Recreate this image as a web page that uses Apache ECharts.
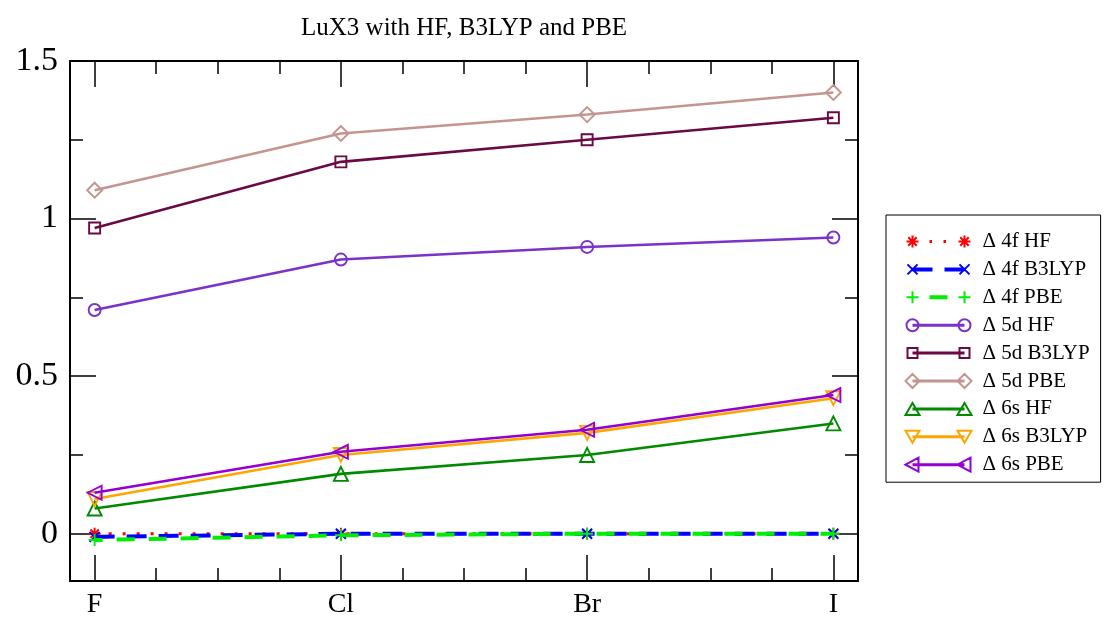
<!DOCTYPE html>
<html>
<head>
<meta charset="utf-8">
<script src="https://cdn.jsdelivr.net/npm/echarts@6/dist/echarts.min.js"></script>
<style>
html,body{margin:0;padding:0;background:#fff;}
#main{width:1105px;height:620px;}
</style>
</head>
<body>
<div id="main"></div>
<script>
// ---- data ----
const categories = ['F', 'Cl', 'Br', 'I'];
const xTickMajor = [0, 1, 2, 3];
const yTickLabels = [0, 0.5, 1, 1.5];
const hf4f = [0, 0, 0, 0];
const b3lyp4f = [-0.01, 0, 0, 0];
const pbe4f = [-0.02, -0.005, 0, 0];
const hf5d = [0.71, 0.87, 0.91, 0.94];
const b3lyp5d = [0.97, 1.18, 1.25, 1.32];
const pbe5d = [1.09, 1.27, 1.33, 1.40];
const hf6s = [0.08, 0.19, 0.25, 0.35];
const b3lyp6s = [0.11, 0.25, 0.32, 0.43];
const pbe6s = [0.13, 0.26, 0.33, 0.44];
const seriesNames = ['Δ 4f HF', 'Δ 4f B3LYP', 'Δ 4f PBE', 'Δ 5d HF', 'Δ 5d B3LYP', 'Δ 5d PBE', 'Δ 6s HF', 'Δ 6s B3LYP', 'Δ 6s PBE'];

// ---- styles ----
const FONT = 'Liberation Serif';
const xMin = -0.1, xMax = 3.1, yMin = -0.15, yMax = 1.5;
const xMinor = [];
for (let i = 0; i <= 12; i++) { if (i % 4) xMinor.push(i * 0.25); }
const yMinor = [0.25, 0.75, 1.25];

const P_STAR = 'path://M0,-6L0,6M-6,0L6,0M-4.2,-4.2L4.2,4.2M-4.2,4.2L4.2,-4.2';
const P_X = 'path://M-5,-5L5,5M-5,5L5,-5';
const P_PLUS = 'path://M0,-6L0,6M-6,0L6,0';

// legend icon path builders
function symPath(type, cx) {
  switch (type) {
    case 'star': return `M${cx},-6L${cx},6M${cx-6},0L${cx+6},0M${cx-4.2},-4.2L${cx+4.2},4.2M${cx-4.2},4.2L${cx+4.2},-4.2`;
    case 'x': return `M${cx-5},-5L${cx+5},5M${cx-5},5L${cx+5},-5`;
    case 'plus': return `M${cx},-6L${cx},6M${cx-6},0L${cx+6},0`;
    case 'circle': return `M${cx+6},0A6,6 0 1,1 ${cx-6},0A6,6 0 1,1 ${cx+6},0Z`;
    case 'rect': return `M${cx-5},-5L${cx+5},-5L${cx+5},5L${cx-5},5Z`;
    case 'diamond': return `M${cx},-7L${cx+7},0L${cx},7L${cx-7},0Z`;
    case 'up': return `M${cx},-6L${cx+7},6L${cx-7},6Z`;
    case 'down': return `M${cx-7},-6L${cx+7},-6L${cx},6Z`;
    case 'left': return `M${cx-7},0L${cx+6},-7L${cx+6},7Z`;
  }
}
function thick(a, b, ys) { return ys.map(y => `M${a},${y}L${b},${y}`).join(''); }
function legendIcon(type, line) {
  let s = 'path://M0,-7M66,7';
  if (line === 'solid') s += thick(7, 59, [-0.5, 0.5]);
  else if (line === 'dot') s += thick(24, 26.5, [-0.6, 0.6]) + thick(38, 40.5, [-0.6, 0.6]);
  else if (line === 'dashB') s += thick(7, 27, [-1, 0, 1]) + thick(39, 59, [-1, 0, 1]);
  else if (line === 'dashG') s += thick(24, 42, [-1, 0, 1]);
  s += symPath(type, 7) + symPath(type, 59);
  return s;
}

const defs = [
  { data: hf4f, color: '#ff0000', symbol: P_STAR, size: 12, rot: 0, lt: [3, 11], lw: 3, icon: legendIcon('star', 'dot') },
  { data: b3lyp4f, color: '#0000ff', symbol: P_X, size: 10, rot: 0, lt: [20, 12], lw: 4, icon: legendIcon('x', 'dashB') },
  { data: pbe4f, color: '#00ee00', symbol: P_PLUS, size: 12, rot: 0, lt: [18, 14], lw: 4, off: 10, icon: legendIcon('plus', 'dashG') },
  { data: hf5d, color: '#7a32c8', symbol: 'circle', size: 12, rot: 0, lt: 'solid', lw: 2.6, icon: legendIcon('circle', 'solid') },
  { data: b3lyp5d, color: '#6b0945', symbol: 'rect', size: 11, rot: 0, lt: 'solid', lw: 2.6, icon: legendIcon('rect', 'solid') },
  { data: pbe5d, color: '#c4948f', symbol: 'diamond', size: 15, rot: 0, lt: 'solid', lw: 2.6, icon: legendIcon('diamond', 'solid') },
  { data: hf6s, color: '#008a00', symbol: 'triangle', size: 14, rot: 0, lt: 'solid', lw: 2.6, icon: legendIcon('up', 'solid') },
  { data: b3lyp6s, color: '#ffa500', symbol: 'triangle', size: 14, rot: 180, lt: 'solid', lw: 2.6, icon: legendIcon('down', 'solid') },
  { data: pbe6s, color: '#9400d3', symbol: 'triangle', size: 14, rot: 90, lt: 'solid', lw: 2.6, icon: legendIcon('left', 'solid') }
];

const series = defs.map((d, i) => ({
  name: seriesNames[i],
  type: 'line',
  xAxisIndex: 0,
  yAxisIndex: 0,
  data: d.data.map((v, k) => [k, v]),
  symbol: d.symbol,
  symbolSize: d.size,
  symbolRotate: d.rot,
  symbolKeepAspect: true,
  showAllSymbol: true,
  color: d.color,
  itemStyle: { color: 'none', borderColor: d.color, borderWidth: 1.9 },
  lineStyle: { color: d.color, width: d.lw, type: d.lt, dashOffset: d.off || 0, cap: 'butt' },
  emphasis: { disabled: true },
  animation: false,
  z: 2 + i
}));

function axisBase(extra) {
  return Object.assign({
    type: 'value',
    splitLine: { show: false },
    axisLine: { show: false, onZero: false, lineStyle: { color: '#000', width: 2 } },
    axisLabel: { show: false },
    axisTick: { show: true, inside: true, lineStyle: { color: '#000', width: 1.5 } }
  }, extra);
}

const xAxes = [
  axisBase({ position: 'bottom', min: xMin, max: xMax,
    axisLine: { show: true, onZero: false, lineStyle: { color: '#000', width: 2 } },
    axisTick: { show: true, inside: true, length: 26, customValues: xTickMajor, lineStyle: { color: '#000', width: 1.5 } },
    axisLabel: { show: true, customValues: xTickMajor, margin: 10, fontFamily: FONT, fontSize: 28, color: '#000',
      formatter: v => categories[Math.round(v)] } }),
  axisBase({ position: 'bottom', min: xMin, max: xMax,
    axisTick: { show: true, inside: true, length: 13, customValues: xMinor, lineStyle: { color: '#000', width: 1.5 } } }),
  axisBase({ position: 'top', min: xMin, max: xMax,
    axisLine: { show: true, onZero: false, lineStyle: { color: '#000', width: 2 } },
    axisTick: { show: true, inside: true, length: 26, customValues: xTickMajor, lineStyle: { color: '#000', width: 1.5 } } }),
  axisBase({ position: 'top', min: xMin, max: xMax,
    axisTick: { show: true, inside: true, length: 13, customValues: xMinor, lineStyle: { color: '#000', width: 1.5 } } })
];
const yAxes = [
  axisBase({ position: 'left', min: yMin, max: yMax,
    axisLine: { show: true, onZero: false, lineStyle: { color: '#000', width: 2 } },
    axisTick: { show: true, inside: true, length: 26, customValues: yTickLabels, lineStyle: { color: '#000', width: 1.5 } },
    axisLabel: { show: true, customValues: yTickLabels, margin: 12, fontFamily: FONT, fontSize: 34, color: '#000' } }),
  axisBase({ position: 'left', min: yMin, max: yMax,
    axisTick: { show: true, inside: true, length: 13, customValues: yMinor, lineStyle: { color: '#000', width: 1.5 } } }),
  axisBase({ position: 'right', min: yMin, max: yMax,
    axisLine: { show: true, onZero: false, lineStyle: { color: '#000', width: 2 } },
    axisTick: { show: true, inside: true, length: 26, customValues: yTickLabels, lineStyle: { color: '#000', width: 1.5 } } }),
  axisBase({ position: 'right', min: yMin, max: yMax,
    axisTick: { show: true, inside: true, length: 13, customValues: yMinor, lineStyle: { color: '#000', width: 1.5 } } })
];

const chart = echarts.init(document.getElementById('main'), null, { renderer: 'canvas' });
chart.setOption({
  backgroundColor: '#fff',
  animation: false,
  title: {
    text: 'LuX3 with HF, B3LYP and PBE',
    left: 296, top: 11,
    textStyle: { fontFamily: FONT, fontSize: 25, fontWeight: 'normal', color: '#000' }
  },
  grid: { left: 70, right: 247, top: 61, bottom: 39, containLabel: false },
  xAxis: xAxes,
  yAxis: yAxes,
  legend: {
    orient: 'vertical',
    left: 886, top: 215,
    padding: [16, 11, 7, 17],
    itemWidth: 66, itemHeight: 14, itemGap: 6.9,
    borderColor: '#000', borderWidth: 1, borderRadius: 0,
    backgroundColor: '#fff',
    selectedMode: false,
    textStyle: { fontFamily: FONT, fontSize: 21, color: '#000', padding: [0, 0, 0, 6] },
    data: defs.map((d, i) => ({
      name: seriesNames[i],
      icon: d.icon,
      itemStyle: { color: 'none', borderColor: d.color, borderWidth: 2 }
    }))
  },
  series: series
});
</script>
</body>
</html>
